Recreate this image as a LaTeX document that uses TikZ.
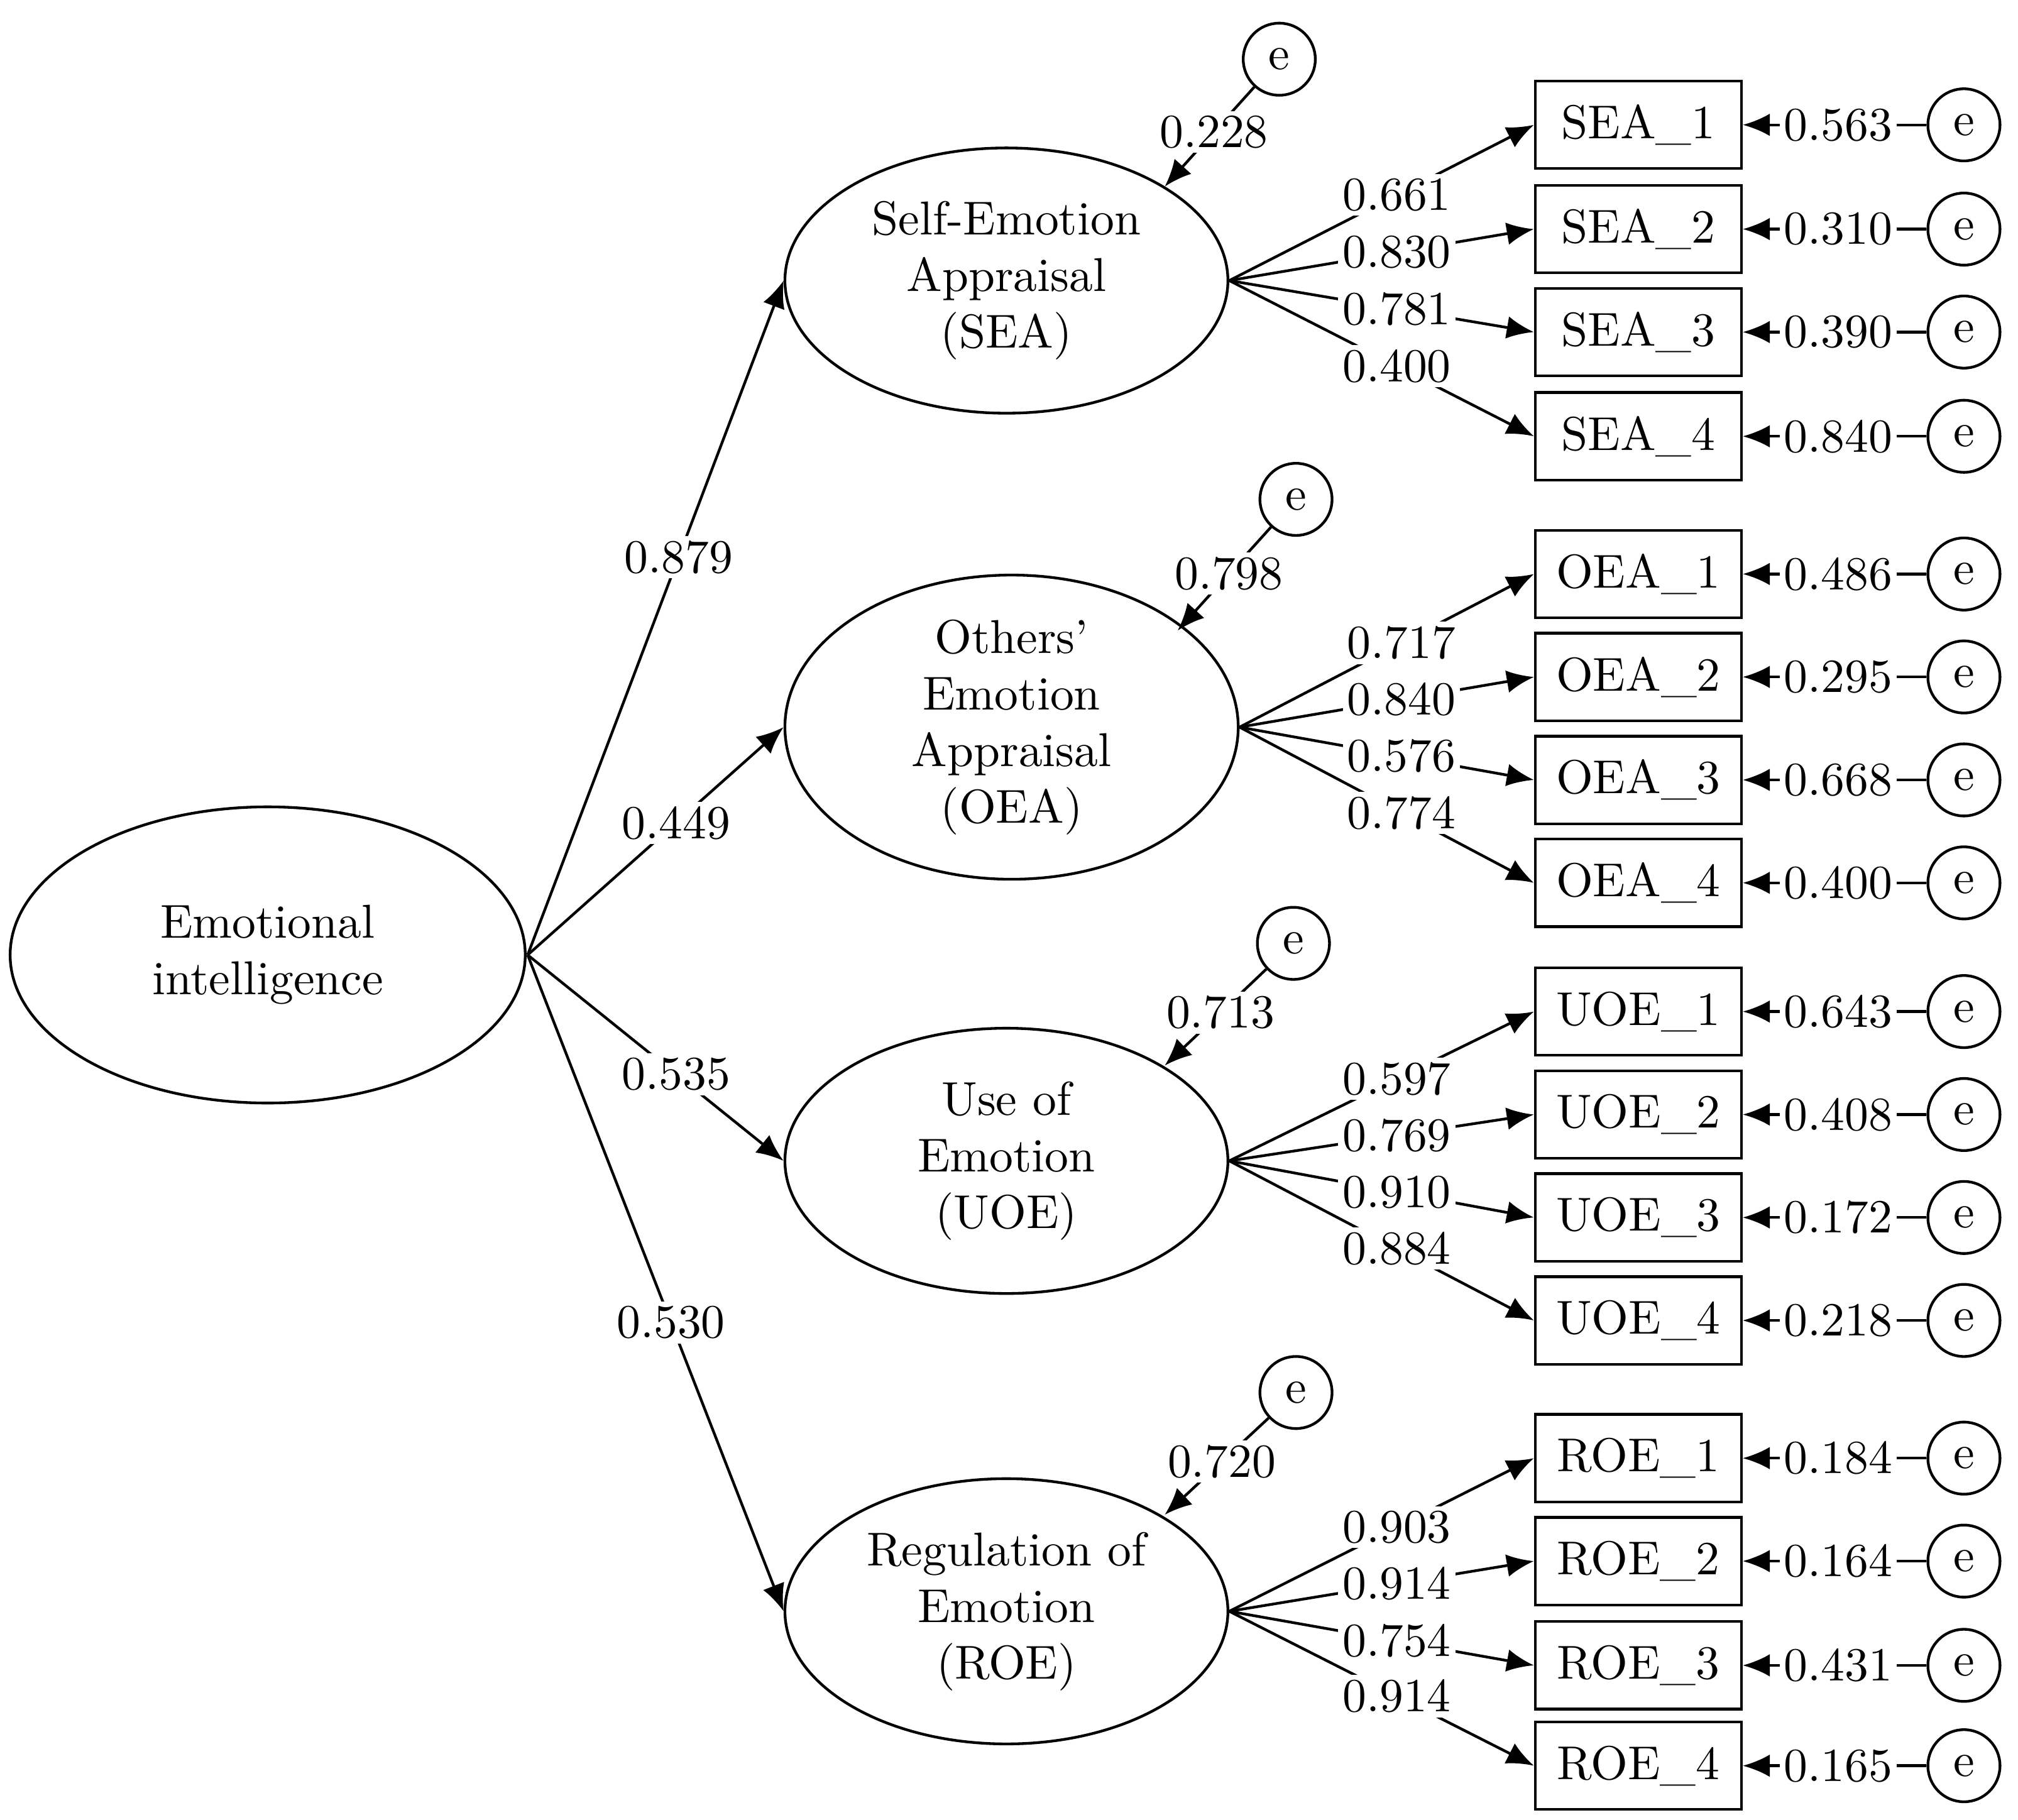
\documentclass[tikz,border=0pt]{standalone}
\usetikzlibrary{shapes.geometric,arrows.meta}
\begin{document}
\begin{tikzpicture}[x=0.01cm,y=-0.01cm,line width=0.6pt,
  lat/.style={ellipse,draw,inner sep=0pt,align=center,font=\fontsize{10.5}{12.5}\selectfont},
  box/.style={draw,minimum width=1.6cm,minimum height=0.68cm,inner sep=0pt,font=\fontsize{10.5}{12}\selectfont},
  err/.style={circle,draw,minimum size=0.56cm,inner sep=0pt,font=\fontsize{10.5}{12}\selectfont},
  lab/.style={fill=white,inner sep=1pt,font=\fontsize{10.5}{12}\selectfont},
  arr/.style={-{Latex[length=6pt,width=5pt]}}]
\useasboundingbox (0,0) rectangle (1568,1414);
\node[lat,minimum width=4cm,minimum height=2.3cm] (EI) at (208,742) {Emotional\\intelligence};
\node[lat,minimum width=3.44cm,minimum height=2.06cm] (SEA) at (782,218) {Self-Emotion\\Appraisal\\(SEA)};
\node[lat,minimum width=3.52cm,minimum height=2.06cm] (OEA) at (786,565) {Others'\\Emotion\\Appraisal\\(OEA)};
\node[lat,minimum width=3.44cm,minimum height=2.06cm] (UOE) at (782,902) {Use of\\Emotion\\(UOE)};
\node[lat,minimum width=3.44cm,minimum height=2.06cm] (ROE) at (782,1252) {Regulation of\\Emotion\\(ROE)};
\coordinate (EIr) at (410,742);
\draw[arr] (EIr) -- node[lab,pos=0.59]{0.879} (SEA.west);
\draw[arr] (EIr) -- node[lab,pos=0.58]{0.449} (OEA.west);
\draw[arr] (EIr) -- node[lab,pos=0.58]{0.535} (UOE.west);
\draw[arr] (EIr) -- node[lab,pos=0.56]{0.530} (ROE.west);
% latent errors
\node[err] (eSEA) at (994,46) {e};
\node[err] (eOEA) at (1007,388) {e};
\node[err] (eUOE) at (1005,733) {e};
\node[err] (eROE) at (1007,1082) {e};
\coordinate (tSEA) at (905,145);
\coordinate (tOEA) at (915,490);
\coordinate (tUOE) at (905,828);
\coordinate (tROE) at (905,1177);
\draw[arr] (eSEA) -- node[lab,pos=0.45]{0.228} (tSEA);
\draw[arr] (eOEA) -- node[lab,pos=0.45]{0.798} (tOEA);
\draw[arr] (eUOE) -- node[lab,pos=0.45]{0.713} (tUOE);
\draw[arr] (eROE) -- node[lab,pos=0.45]{0.720} (tROE);
% indicators
\foreach \f/\ys/\ls/\es [count=\k] in {
  SEA/{97,178,258,339}/{0.661,0.830,0.781,0.400}/{0.563,0.310,0.390,0.840},
  OEA/{446,526,606,686}/{0.717,0.840,0.576,0.774}/{0.486,0.295,0.668,0.400},
  UOE/{786,866,946,1026}/{0.597,0.769,0.910,0.884}/{0.643,0.408,0.172,0.218},
  ROE/{1133,1213,1294,1372}/{0.903,0.914,0.754,0.914}/{0.184,0.164,0.431,0.165}}{
  \foreach \y [count=\i] in \ys {
    \node[box] (\f\i) at (1273,\y) {\f\_\i};
    \node[err] (e\f\i) at (1526,\y) {e};
  }
  \foreach \l [count=\i] in \ls {
    \draw[arr] (\f.east) -- node[lab,pos=0.55]{\l} (\f\i.west);
  }
  \foreach \v [count=\i] in \es {
    \draw[arr] (e\f\i) -- node[lab,pos=0.48]{\v} (\f\i.east);
  }
}
\end{tikzpicture}
\end{document}
